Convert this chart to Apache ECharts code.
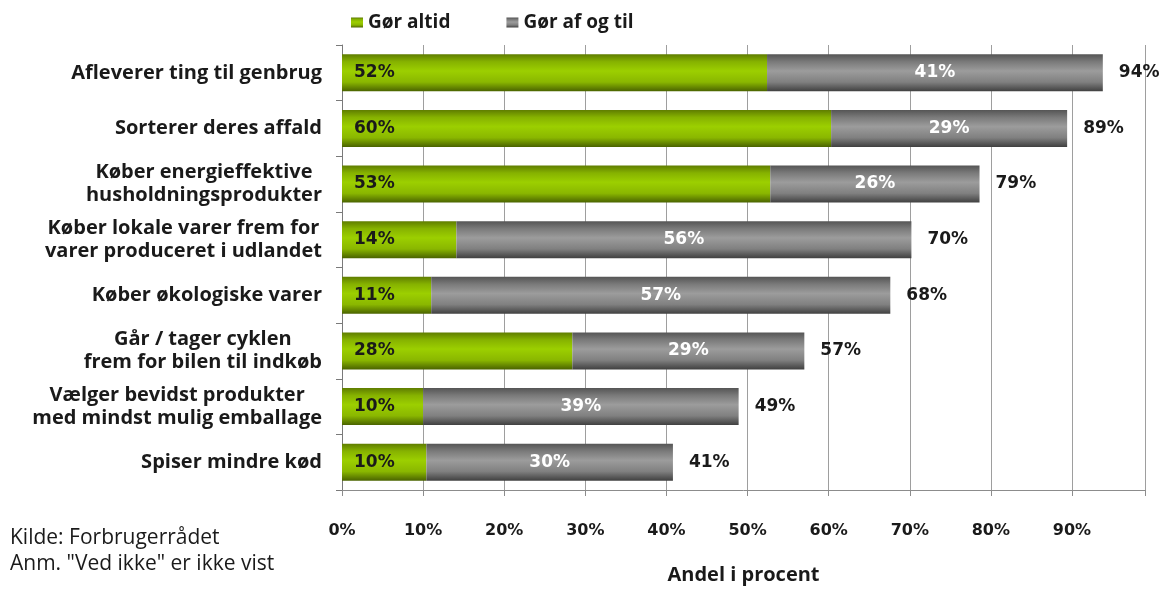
<!DOCTYPE html>
<html>
<head>
<meta charset="utf-8">
<script src="https://cdn.jsdelivr.net/npm/echarts@6/dist/echarts.min.js"></script>
<style>
html,body{margin:0;padding:0;background:#fff;}
#chart{width:1162px;height:590px;}
</style>
</head>
<body>
<div id="chart"></div>
<script>
const categories = [
  "Afleverer ting til genbrug",
  "Sorterer deres affald",
  "Køber energieffektive\nhusholdningsprodukter",
  "Køber lokale varer frem for\nvarer produceret i udlandet",
  "Køber økologiske varer",
  "Går / tager cyklen\nfrem for bilen til indkøb",
  "Vælger bevidst produkter\nmed mindst mulig emballage",
  "Spiser mindre kød"
];
const gorAltid = [52.4, 60.3, 52.8, 14.1, 11.0, 28.4, 10.0, 10.4];
const gorAfOgTil = [41.4, 29.1, 25.8, 56.1, 56.6, 28.6, 38.9, 30.4];
const seriesNames = ["Gør altid", "Gør af og til"];
const xTicks = [0, 10, 20, 30, 40, 50, 60, 70, 80, 90];

const totals = gorAltid.map((v, i) => +(v + gorAfOgTil[i]).toFixed(1));

const pctFont = "DejaVu Sans";
const txtFont = "Open Sans";

const greenGrad = new echarts.graphic.LinearGradient(0, 0, 0, 1, [
  {offset: 0, color: '#5f7d00'},
  {offset: 0.2, color: '#86b200'},
  {offset: 0.45, color: '#9ccf00'},
  {offset: 0.75, color: '#8ab700'},
  {offset: 1, color: '#4a6300'}
]);
const grayGrad = new echarts.graphic.LinearGradient(0, 0, 0, 1, [
  {offset: 0, color: '#555555'},
  {offset: 0.2, color: '#7a7a7a'},
  {offset: 0.45, color: '#9c9c9c'},
  {offset: 0.75, color: '#808080'},
  {offset: 1, color: '#404040'}
]);

const chart = echarts.init(document.getElementById('chart'), null, {renderer: 'canvas'});
chart.setOption({
  backgroundColor: '#ffffff',
  animation: false,
  legend: {
    data: seriesNames,
    left: 346,
    top: 8,
    itemWidth: 12,
    itemHeight: 10,
    itemGap: 56,
    icon: 'rect',
    textStyle: {fontFamily: txtFont, fontWeight: 'bold', fontSize: 19, color: '#1a1a1a'}
  },
  grid: {left: 342, top: 45, width: 803, height: 453},
  xAxis: {
    type: 'value',
    min: 0,
    max: 99,
    interval: 10,
    name: 'Andel i procent',
    nameLocation: 'middle',
    nameGap: 75,
    nameTextStyle: {fontFamily: txtFont, fontWeight: 'bold', fontSize: 20, color: '#1a1a1a'},
    axisLine: {show: true, lineStyle: {color: '#8c8c8c', width: 1}},
    axisTick: {show: true, length: 6, lineStyle: {color: '#8c8c8c'}},
    splitLine: {show: true, lineStyle: {color: '#9e9e9e', width: 1}},
    axisLabel: {
      margin: 33,
      formatter: v => xTicks.indexOf(v) >= 0 ? v + '%' : '',
      fontFamily: pctFont, fontWeight: 'bold', fontSize: 16, color: '#1a1a1a'
    }
  },
  yAxis: {
    type: 'category',
    inverse: true,
    data: categories,
    axisLine: {show: true, lineStyle: {color: '#7a7a7a', width: 1}},
    axisTick: {show: true, length: 6, lineStyle: {color: '#7a7a7a'}},
    axisLabel: {
      margin: 20,
      formatter: v => v.split('\n').map(l => '{c|' + l + '}').join('\n'),
      rich: {
        c: {align: 'center', fontFamily: txtFont, fontWeight: 'bold', fontSize: 20, lineHeight: 23, color: '#1a1a1a'}
      }
    }
  },
  series: [
    {
      name: seriesNames[0],
      type: 'bar',
      stack: 'tot',
      barWidth: 37,
      data: gorAltid,
      itemStyle: {color: greenGrad},
      label: {
        show: true, position: 'insideLeft', distance: 12,
        formatter: p => Math.round(p.value) + '%',
        fontFamily: pctFont, fontWeight: 'bold', fontSize: 17, color: '#1a1a1a'
      }
    },
    {
      name: seriesNames[1],
      type: 'bar',
      stack: 'tot',
      barWidth: 37,
      data: gorAfOgTil,
      itemStyle: {color: grayGrad},
      label: {
        show: true, position: 'inside',
        formatter: p => Math.round(p.value) + '%',
        fontFamily: pctFont, fontWeight: 'bold', fontSize: 17, color: '#ffffff'
      }
    },
    {
      name: 'total',
      type: 'bar',
      barWidth: 37,
      barGap: '-100%',
      data: totals,
      silent: true,
      z: 1,
      itemStyle: {color: 'rgba(0,0,0,0)'},
      label: {
        show: true, position: 'right', distance: 16,
        formatter: p => Math.round(p.value) + '%',
        fontFamily: pctFont, fontWeight: 'bold', fontSize: 17, color: '#1a1a1a'
      }
    }
  ],
  graphic: [
    {type: 'text', left: 10, top: 528, style: {text: 'Kilde: Forbrugerrådet', font: '21px "Open Sans"', fill: '#1a1a1a'}},
    {type: 'text', left: 10, top: 554, style: {text: 'Anm. "Ved ikke" er ikke vist', font: '21px "Open Sans"', fill: '#1a1a1a'}}
  ]
});
</script>
</body>
</html>
